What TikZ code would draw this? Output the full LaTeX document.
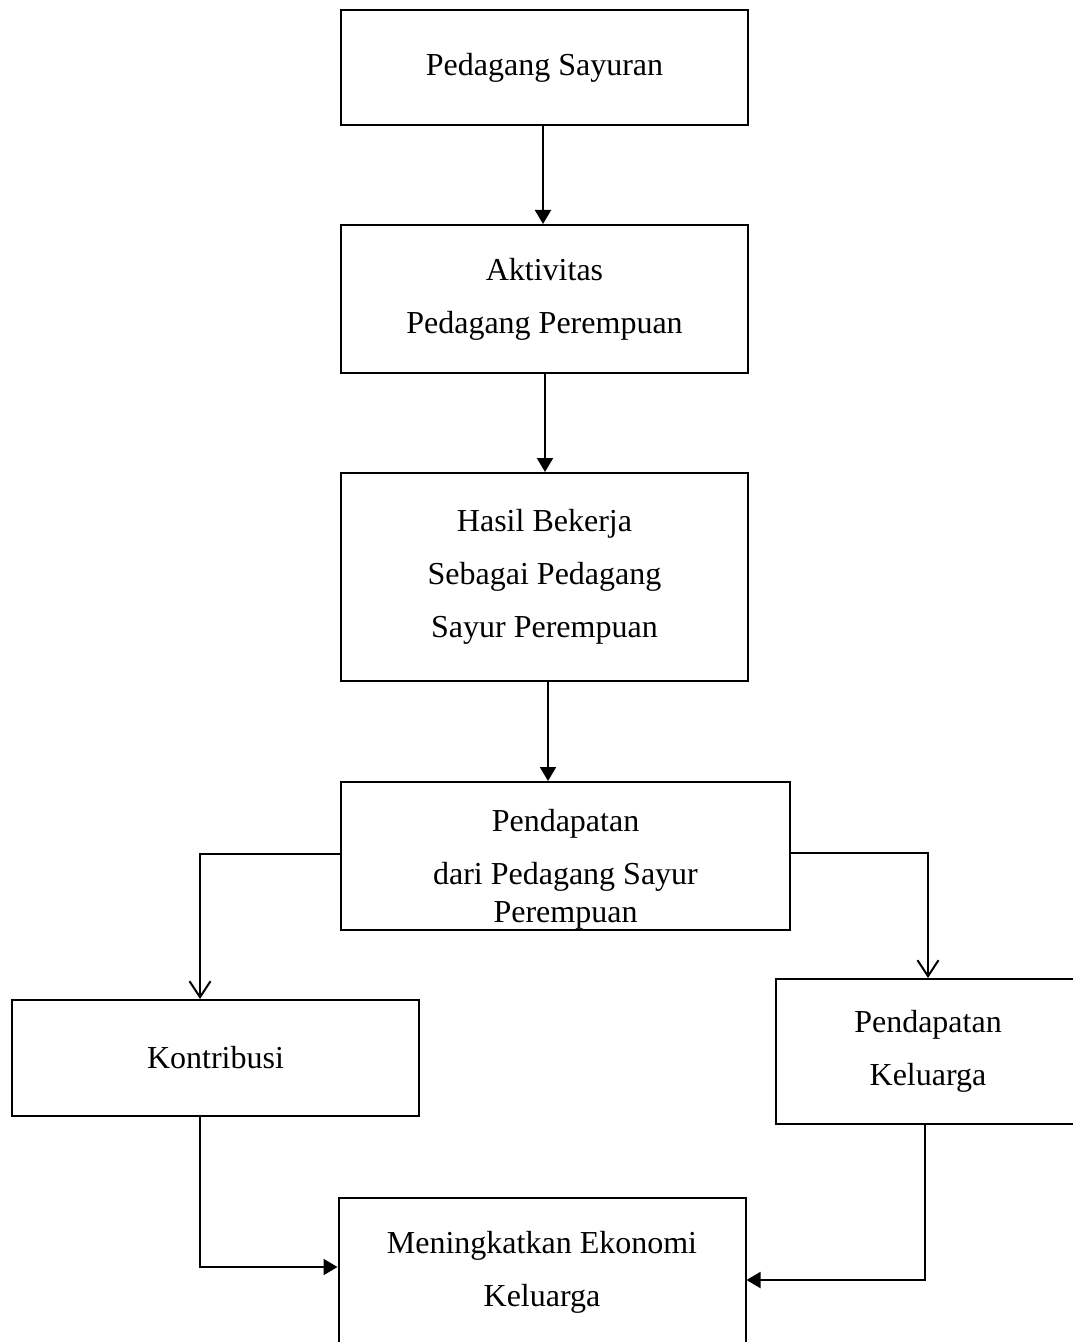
\documentclass[tikz,border=0pt]{standalone}
\usepackage{fontspec}
\setmainfont{Liberation Serif}
\usetikzlibrary{arrows.meta}
\begin{document}
\begin{tikzpicture}[line cap=butt, line join=miter, font=\fontsize{16}{26.5}\selectfont, >={Triangle[length=7pt,width=8pt]}, x=0.5pt, y=-0.5pt]
	\tikzset{box/.style={draw, line width=1pt, align=center, inner sep=0pt},
		open/.style={-{Straight Barb[length=8pt,width=10.5pt,line width=1pt]}, line width=1pt},
		fill arrow/.style={->, line width=1pt}}
	\useasboundingbox (0,0) rectangle (1072,1342);
	\node[box, minimum width=203.5pt, minimum height=57.5pt] (sayur) at (544.5,67.5) {Pedagang Sayuran};
	\node[box, minimum width=203.5pt, minimum height=74pt] (aktiv) at (544.5,299) {Aktivitas\\Pedagang Perempuan};
	\node[box, minimum width=203.5pt, minimum height=104pt] (hasil) at (544.5,577) {Hasil Bekerja\\Sebagai Pedagang\\Sayur Perempuan};
	\node[box, minimum width=224.5pt, minimum height=74pt] (pend) at (565.5,856) {};
	\node[align=center, inner sep=0pt, anchor=north] (pendtext) at (565.5,809) {Pendapatan\\dari Pedagang Sayur\\[-7.5pt]Perempuan};
	\node[box, minimum width=203.5pt, minimum height=58pt] (kontri) at (215.5,1058) {Kontribusi};
	\node[box, minimum width=152pt, minimum height=72.5pt] (keluarga) at (928,1051.5) {Pendapatan\\Keluarga};
	\node[box, minimum width=203.5pt, minimum height=74pt] (ekonomi) at (542,1272) {Meningkatkan Ekonomi\\Keluarga};
	\coordinate (kl) at (200,854);
	\coordinate (kr) at (928,853);
	\coordinate (kb) at (200,1267);
	\coordinate (kk) at (925,1280);
	\draw[fill arrow] (sayur.south -| 543,0) -- (aktiv.north -| 543,0);
	\draw[fill arrow] (aktiv.south -| 545,0) -- (hasil.north -| 545,0);
	\draw[fill arrow] (hasil.south -| 548,0) -- (pend.north -| 548,0);
	\draw[open] (pend.west |- kl) -- (kl) -- (kl |- kontri.north);
	\draw[open] (pend.east |- kr) -- (kr) -- (kr |- keluarga.north);
	\draw[fill arrow] (kontri.south -| kb) -- (kb) -- (kb -| ekonomi.west);
	\draw[fill arrow] (keluarga.south -| kk) -- (kk) -- (kk -| ekonomi.east);
\end{tikzpicture}
\end{document}
